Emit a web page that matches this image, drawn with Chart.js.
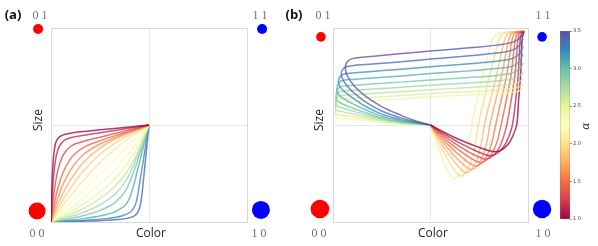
<!DOCTYPE html>
<html><head><meta charset="utf-8">
<script src="https://cdn.jsdelivr.net/npm/chart.js@4.4.1/dist/chart.umd.min.js"></script>
<style>
body{margin:0;background:#fff}
#wrap{position:relative;width:598px;height:246px;overflow:hidden;background:#fff}
canvas{position:absolute;top:0}
.t{position:absolute;transform:translate(-50%,-50%);white-space:nowrap;line-height:1}
.corner{font-family:"Liberation Serif","DejaVu Serif",serif;font-size:12px;color:#707070}
.ax{font-family:"Open Sans",sans-serif;font-size:12px;color:#222}
.pl{font-family:"Open Sans",sans-serif;font-weight:700;font-size:13px;color:#111}
.al{font-family:"DejaVu Serif",serif;font-style:italic;font-size:11px;color:#333}
</style></head>
<body><div id="wrap">
<canvas id="ca" width="290" height="246" style="left:0"></canvas>
<canvas id="cb" width="266" height="246" style="left:290px"></canvas>
<canvas id="ca2" width="290" height="246" style="left:0"></canvas>
<canvas id="cb2" width="266" height="246" style="left:290px"></canvas>
<canvas id="cc" width="46" height="246" style="left:552px"></canvas>
<div class="t pl" style="left:13px;top:14px">(a)</div>
<div class="t pl" style="left:294px;top:14px">(b)</div>
<div class="t corner" style="left:40px;top:15px">0 1</div>
<div class="t corner" style="left:260px;top:15px">1 1</div>
<div class="t corner" style="left:37px;top:233px">0 0</div>
<div class="t corner" style="left:259px;top:233px">1 0</div>
<div class="t ax" style="left:151px;top:233px">Color</div>
<div class="t ax" style="left:38px;top:120px;transform:translate(-50%,-50%) rotate(-90deg)">Size</div>
<div class="t corner" style="left:323px;top:15px">0 1</div>
<div class="t corner" style="left:543px;top:15px">1 1</div>
<div class="t corner" style="left:319px;top:233px">0 0</div>
<div class="t corner" style="left:543px;top:233px">1 0</div>
<div class="t ax" style="left:433px;top:233px">Color</div>
<div class="t ax" style="left:319px;top:120px;transform:translate(-50%,-50%) rotate(-90deg)">Size</div>
<div class="t al" style="left:585px;top:126px;transform:translate(-50%,-50%) rotate(-90deg)">α</div>
</div>
<script>
// ---------- Panel (a) data ----------
const gridAX = [0, 0.0025, 0.005, 0.01, 0.02, 0.035, 0.06, 0.1, 0.16, 0.25, 0.35, 0.5];
const upperAY = [
  [0, 0.110, 0.195, 0.300, 0.392, 0.430, 0.448, 0.458, 0.466, 0.475, 0.485, 0.5],
  [0, 0.059, 0.11, 0.193, 0.30, 0.372, 0.414, 0.434, 0.446, 0.46, 0.476, 0.5],
  [0, 0.029, 0.057, 0.106, 0.184, 0.266, 0.341, 0.389, 0.414, 0.437, 0.462, 0.5],
  [0, 0.016, 0.031, 0.06, 0.111, 0.174, 0.251, 0.326, 0.38, 0.419, 0.452, 0.5],
  [0, 0.010, 0.020, 0.040, 0.076, 0.124, 0.191, 0.269, 0.343, 0.402, 0.444, 0.5],
  [0, 0.007, 0.014, 0.027, 0.053, 0.09, 0.145, 0.218, 0.301, 0.382, 0.438, 0.5],
  [0, 0.005, 0.010, 0.020, 0.040, 0.068, 0.112, 0.176, 0.256, 0.349, 0.422, 0.5],
  [0, 0.004, 0.007, 0.014, 0.029, 0.050, 0.084, 0.136, 0.209, 0.306, 0.397, 0.5]
];
const diagAX = [0, 0.5];
const diagAY = [0, 0.5];
const lowerAY = [0, 0.0025, 0.005, 0.01, 0.02, 0.035, 0.06, 0.1, 0.16, 0.25, 0.35, 0.5];
const lowerAX = [
  [0, 0.004, 0.007, 0.014, 0.029, 0.050, 0.084, 0.136, 0.209, 0.306, 0.397, 0.5],
  [0, 0.005, 0.010, 0.020, 0.040, 0.068, 0.112, 0.176, 0.256, 0.349, 0.422, 0.5],
  [0, 0.007, 0.014, 0.027, 0.053, 0.09, 0.145, 0.218, 0.301, 0.382, 0.438, 0.5],
  [0, 0.010, 0.020, 0.040, 0.076, 0.124, 0.191, 0.269, 0.343, 0.402, 0.444, 0.5],
  [0, 0.016, 0.031, 0.06, 0.111, 0.174, 0.251, 0.326, 0.38, 0.419, 0.452, 0.5],
  [0, 0.029, 0.057, 0.106, 0.184, 0.266, 0.341, 0.389, 0.414, 0.437, 0.462, 0.5],
  [0, 0.059, 0.11, 0.193, 0.30, 0.372, 0.414, 0.434, 0.446, 0.46, 0.476, 0.5],
  [0, 0.110, 0.195, 0.300, 0.392, 0.430, 0.448, 0.458, 0.466, 0.475, 0.485, 0.5]
];
const alphaA = [1.00,1.15,1.30,1.45,1.60,1.75,1.90,2.05,2.20,2.35,2.50,2.65,2.80,2.95,3.10,3.25,3.40];

// ---------- Panel (b) data ----------
const upperB = [
  [[0.5,0.5],[0.42,0.522],[0.344,0.552],[0.25,0.595],[0.17,0.646],[0.11,0.70],[0.075,0.75],[0.063,0.792],[0.072,0.825],[0.1,0.842],[0.15,0.849],[0.3,0.864],[0.5,0.881],[0.7,0.898],[0.85,0.913],[0.93,0.93],[0.965,0.955],[0.98,0.982]],
  [[0.5,0.5],[0.42,0.517],[0.344,0.538],[0.25,0.572],[0.17,0.617],[0.1,0.672],[0.06,0.718],[0.043,0.755],[0.048,0.784],[0.07,0.80],[0.1,0.806],[0.2,0.814],[0.35,0.826],[0.5,0.84],[0.7,0.857],[0.85,0.872],[0.92,0.886],[0.955,0.91],[0.975,0.945]],
  [[0.5,0.5],[0.42,0.514],[0.344,0.529],[0.25,0.556],[0.17,0.594],[0.1,0.64],[0.05,0.68],[0.029,0.712],[0.032,0.743],[0.05,0.761],[0.1,0.768],[0.2,0.776],[0.35,0.788],[0.5,0.80],[0.7,0.816],[0.85,0.83],[0.92,0.843],[0.955,0.866],[0.975,0.905]],
  [[0.5,0.5],[0.42,0.511],[0.344,0.522],[0.25,0.545],[0.17,0.577],[0.1,0.61],[0.045,0.642],[0.021,0.67],[0.023,0.703],[0.04,0.727],[0.1,0.735],[0.2,0.742],[0.35,0.753],[0.5,0.765],[0.7,0.779],[0.85,0.792],[0.92,0.803],[0.955,0.826],[0.975,0.865]],
  [[0.5,0.5],[0.42,0.509],[0.344,0.517],[0.25,0.536],[0.17,0.563],[0.1,0.588],[0.04,0.612],[0.017,0.632],[0.018,0.668],[0.035,0.696],[0.1,0.704],[0.2,0.711],[0.35,0.721],[0.5,0.732],[0.7,0.745],[0.85,0.757],[0.92,0.768],[0.955,0.787],[0.975,0.82]],
  [[0.5,0.5],[0.42,0.507],[0.344,0.514],[0.25,0.531],[0.17,0.552],[0.1,0.572],[0.04,0.591],[0.015,0.603],[0.016,0.638],[0.032,0.670],[0.1,0.678],[0.2,0.685],[0.35,0.695],[0.5,0.705],[0.7,0.717],[0.85,0.728],[0.92,0.737],[0.955,0.752],[0.975,0.775]],
  [[0.5,0.5],[0.42,0.505],[0.344,0.511],[0.25,0.525],[0.17,0.541],[0.1,0.557],[0.04,0.571],[0.014,0.578],[0.015,0.612],[0.03,0.648],[0.1,0.656],[0.2,0.662],[0.35,0.672],[0.5,0.682],[0.7,0.693],[0.85,0.703],[0.92,0.71],[0.955,0.722],[0.975,0.74]],
  [[0.5,0.5],[0.42,0.504],[0.344,0.508],[0.25,0.519],[0.17,0.532],[0.1,0.543],[0.04,0.551],[0.015,0.556],[0.015,0.59],[0.028,0.628],[0.1,0.637],[0.2,0.643],[0.35,0.652],[0.5,0.662],[0.7,0.672],[0.85,0.681],[0.92,0.688],[0.955,0.697],[0.975,0.71]],
  [[0.5,0.5],[0.42,0.502],[0.344,0.504],[0.25,0.513],[0.17,0.523],[0.1,0.53],[0.04,0.535],[0.016,0.538],[0.015,0.572],[0.026,0.61],[0.1,0.62],[0.2,0.626],[0.35,0.635],[0.5,0.645],[0.7,0.655],[0.85,0.663],[0.92,0.669],[0.955,0.676],[0.975,0.69]]
];
const alphaUpperB = [3.5, 3.3625, 3.225, 3.0875, 2.95, 2.8125, 2.675, 2.5375, 2.4];
const lowerB = [
  [[0.5,0.5],[0.567,0.464],[0.641,0.428],[0.735,0.39],[0.792,0.37],[0.836,0.362],[0.868,0.373],[0.9,0.403],[0.923,0.445],[0.942,0.5],[0.952,0.63],[0.962,0.758],[0.969,0.929],[0.974,0.965],[0.98,0.982]],
  [[0.5,0.5],[0.562,0.459],[0.63,0.418],[0.717,0.374],[0.77,0.351],[0.81,0.342],[0.843,0.355],[0.876,0.389],[0.9,0.437],[0.92,0.5],[0.937,0.63],[0.95,0.758],[0.959,0.929],[0.965,0.967],[0.98,0.982]],
  [[0.5,0.5],[0.557,0.454],[0.62,0.408],[0.7,0.359],[0.748,0.335],[0.785,0.324],[0.817,0.338],[0.849,0.377],[0.872,0.43],[0.891,0.5],[0.914,0.63],[0.933,0.758],[0.947,0.929],[0.955,0.968],[0.967,0.979],[0.98,0.982]],
  [[0.5,0.5],[0.552,0.45],[0.609,0.399],[0.682,0.345],[0.726,0.318],[0.76,0.306],[0.791,0.322],[0.821,0.364],[0.844,0.422],[0.862,0.5],[0.889,0.63],[0.913,0.758],[0.933,0.929],[0.943,0.968],[0.958,0.979],[0.98,0.982]],
  [[0.5,0.5],[0.547,0.445],[0.599,0.39],[0.665,0.33],[0.704,0.301],[0.735,0.288],[0.765,0.305],[0.794,0.352],[0.816,0.415],[0.834,0.5],[0.863,0.63],[0.891,0.758],[0.916,0.929],[0.928,0.968],[0.947,0.979],[0.98,0.982]],
  [[0.5,0.5],[0.542,0.44],[0.588,0.38],[0.647,0.316],[0.683,0.284],[0.71,0.27],[0.739,0.288],[0.767,0.339],[0.788,0.408],[0.805,0.5],[0.835,0.63],[0.865,0.758],[0.899,0.929],[0.913,0.968],[0.935,0.979],[0.98,0.982]],
  [[0.5,0.5],[0.537,0.436],[0.578,0.372],[0.63,0.302],[0.661,0.268],[0.685,0.253],[0.712,0.273],[0.74,0.327],[0.76,0.401],[0.776,0.5],[0.807,0.63],[0.839,0.758],[0.877,0.929],[0.894,0.968],[0.921,0.979],[0.98,0.982]],
  [[0.5,0.5],[0.531,0.431],[0.565,0.363],[0.609,0.289],[0.635,0.252],[0.655,0.236],[0.682,0.257],[0.709,0.315],[0.729,0.394],[0.745,0.5],[0.775,0.63],[0.805,0.758],[0.848,0.929],[0.868,0.968],[0.903,0.979],[0.98,0.982]],
  [[0.5,0.5],[0.523,0.428],[0.549,0.355],[0.582,0.278],[0.602,0.239],[0.617,0.222],[0.645,0.244],[0.673,0.305],[0.694,0.389],[0.711,0.5],[0.74,0.63],[0.768,0.758],[0.814,0.929],[0.84,0.968],[0.882,0.979],[0.98,0.982]]
];
const alphaLowerB = [1.0, 1.1375, 1.275, 1.4125, 1.55, 1.6875, 1.825, 1.9625, 2.1];

// corner states (data coordinates of the square)
const cornerAX = [-0.066, -0.071, 1.077, 1.071];
const cornerAY = [0.995, 0.057, 0.995, 0.062];
const cornerBX = [-0.062, -0.067, 1.072, 1.072];
const cornerBY = [0.954, 0.067, 0.954, 0.067];

// colorbar
const cbRange = [1.0, 3.5];
const cbTicks = [1.0, 1.5, 2.0, 2.5, 3.0, 3.5];

// ---------- styling helpers ----------
const spectral = ['#9e0142','#d53e4f','#f46d43','#fdae61','#fee08b','#ffffbf','#e6f598','#abdda4','#66c2a5','#3288bd','#5e4fa2'];
function hex(c){return [parseInt(c.slice(1,3),16),parseInt(c.slice(3,5),16),parseInt(c.slice(5,7),16)];}
function cmap(alpha, op){
  let t=(alpha-cbRange[0])/(cbRange[1]-cbRange[0]); t=Math.max(0,Math.min(1,t));
  const p=t*10, i=Math.min(9,Math.floor(p)), f=p-i;
  const a=hex(spectral[i]), b=hex(spectral[i+1]);
  const c=a.map((v,k)=>Math.round(v+(b[k]-v)*f));
  return `rgba(${c[0]},${c[1]},${c[2]},${op})`;
}
const cornerColors=['#ff0000','#ff0000','#0000ff','#0000ff'];
const cornerSizesA=[5,8.5,5,9];
const cornerSizesB=[4.8,9.3,4.8,9.2];

function lineDs(points, alpha, extra){
  return Object.assign({data:points, showLine:true, pointRadius:0, pointHoverRadius:0,
    borderColor:cmap(alpha,0.78), borderWidth:1.5, fill:false}, extra||{});
}
function scaleOpts(){
  return {type:'linear', min:0, max:1,
    ticks:{display:false, stepSize:0.5},
    grid:{drawTicks:false, color:(c)=> (c.tick && c.tick.value===0.5) ? '#e8e8e8' : '#d9d9d9', lineWidth:1},
    border:{display:true, color:'#d9d9d9'}};
}
function baseOpts(pad){
  return {responsive:false, animation:false, devicePixelRatio:1,
    layout:{padding:pad, autoPadding:false},
    plugins:{legend:{display:false}, tooltip:{enabled:false}},
    scales:{x:scaleOpts(), y:scaleOpts()}};
}
// overlay chart sharing the same data->pixel mapping as the panel, with a larger plot area
function cornerChart(id, W, H, box, pad, xs, ys, sizes){
  const aL=pad.left, aR=W-pad.right, aT=pad.top, aB=H-pad.bottom;
  const bw=box.r-box.l, bh=box.b-box.t;
  new Chart(document.getElementById(id), {type:'scatter',
    data:{datasets:[{data:xs.map((x,i)=>({x, y:ys[i]})), pointRadius:sizes, pointHoverRadius:sizes,
      pointBackgroundColor:cornerColors, pointBorderWidth:0, showLine:false}]},
    options:{responsive:false, animation:false, devicePixelRatio:1, layout:{padding:pad, autoPadding:false},
      plugins:{legend:{display:false}, tooltip:{enabled:false}},
      scales:{
        x:{type:'linear', display:false, min:(aL-box.l)/bw, max:(aR-box.l)/bw},
        y:{type:'linear', display:false, min:(box.b-aB)/bh, max:(box.b-aT)/bh}}}});
}

// ---------- Panel (a) ----------
const dsA=[];
upperAY.forEach((ys,k)=>dsA.push(lineDs(gridAX.map((x,i)=>({x, y:ys[i]})), alphaA[k], {cubicInterpolationMode:'monotone'})));
dsA.push(lineDs(diagAX.map((x,i)=>({x, y:diagAY[i]})), alphaA[8]));
lowerAX.forEach((xs,m)=>dsA.push(lineDs(xs.map((x,i)=>({x, y:lowerAY[i]})), alphaA[9+m], {cubicInterpolationMode:'monotone'})));
new Chart(document.getElementById('ca'), {type:'scatter', data:{datasets:dsA},
  options:baseOpts({left:51, right:43, top:28, bottom:24})});
cornerChart('ca2', 290, 246, {l:51, r:247, t:28, b:222}, {left:14, right:8, top:6, bottom:12},
  cornerAX, cornerAY, cornerSizesA);

// ---------- Panel (b) ----------
const dsB=[];
upperB.forEach((pts,i)=>dsB.push(lineDs(pts.map(p=>({x:p[0], y:p[1]})), alphaUpperB[i], {tension:0.35})));
lowerB.forEach((pts,i)=>dsB.push(lineDs(pts.map(p=>({x:p[0], y:p[1]})), alphaLowerB[i], {tension:0.35})));
new Chart(document.getElementById('cb'), {type:'scatter', data:{datasets:dsB},
  options:baseOpts({left:43, right:28, top:28, bottom:24})});
cornerChart('cb2', 266, 246, {l:43, r:238, t:28, b:222}, {left:8, right:1, top:6, bottom:12},
  cornerBX, cornerBY, cornerSizesB);

// ---------- Colorbar ----------
new Chart(document.getElementById('cc'), {type:'bar',
  data:{labels:[''], datasets:[{data:[cbRange],
    backgroundColor:(ctx)=>{const ca=ctx.chart.chartArea; if(!ca) return '#ccc';
      const g=ctx.chart.ctx.createLinearGradient(0,ca.bottom,0,ca.top);
      spectral.forEach((c,i)=>g.addColorStop(i/10,c)); return g;},
    borderColor:'#777', borderWidth:0.6, borderSkipped:false,
    barPercentage:1, categoryPercentage:1}]},
  options:{responsive:false, animation:false, devicePixelRatio:1,
    layout:{padding:{left:8, right:10, top:31, bottom:27}},
    plugins:{legend:{display:false}, tooltip:{enabled:false}},
    scales:{
      x:{display:false},
      y:{position:'right', min:cbRange[0], max:cbRange[1],
        afterBuildTicks:(s)=>{s.ticks=cbTicks.map(v=>({value:v}));},
        afterFit:(s)=>{s.width=18;},
        ticks:{font:{size:5, family:'DejaVu Sans'}, color:'#444', padding:1, callback:(v)=>Number(v).toFixed(1)},
        grid:{drawOnChartArea:false, drawTicks:true, tickLength:2, color:'#555', lineWidth:0.6},
        border:{display:false}}
    }}});
</script>
</body></html>
